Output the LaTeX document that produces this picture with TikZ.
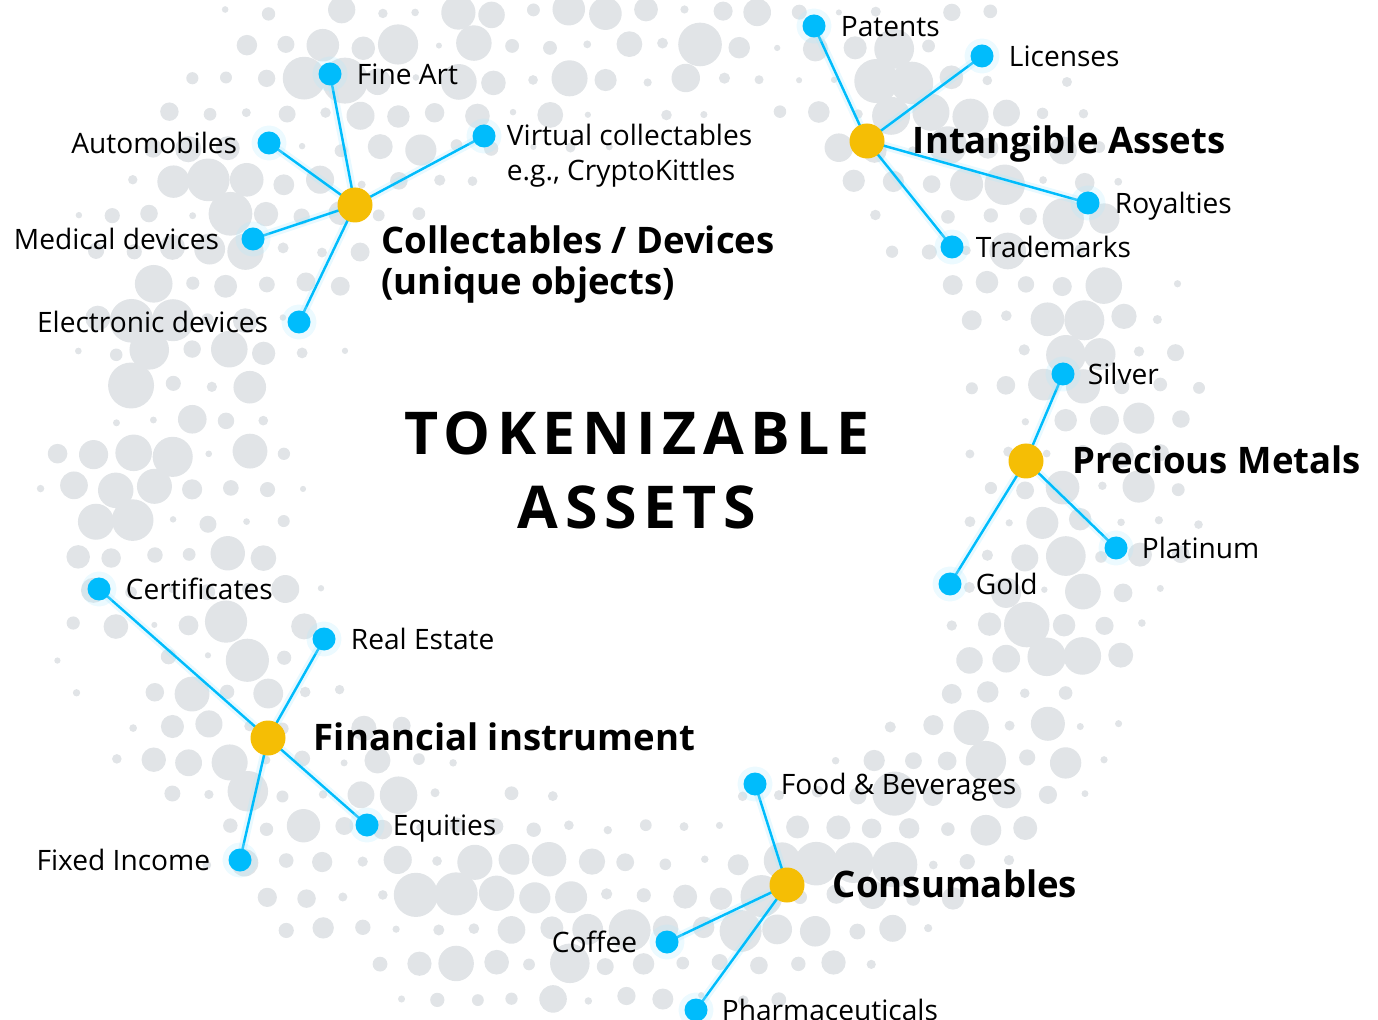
\documentclass[tikz,border=0pt]{standalone}
\usepackage{fontspec}
\setmainfont{Open Sans}
\usetikzlibrary{positioning}
\definecolor{leafblue}{HTML}{00BCFC}
\definecolor{hubyellow}{HTML}{F5BE05}
\definecolor{dotgray}{HTML}{E1E4E7}
\pgfdeclarelayer{dots}
\pgfdeclarelayer{edges}
\pgfsetlayers{dots,edges,main}
\tikzset{
  leaf/.style={circle, fill=leafblue, minimum size=2.3mm, inner sep=0pt,
    preaction={draw=leafblue!30, line width=1.2mm, draw opacity=0.25}},
  hub/.style={circle, fill=hubyellow, minimum size=3.5mm, inner sep=0pt},
  txt/.style={inner sep=0pt, font=\fontsize{8}{10}\selectfont,
    text height=0.72em, text depth=0.13em},
  hubtxt/.style={inner sep=0pt, font=\fontsize{10.4}{11.7}\selectfont\bfseries,
    text height=0.72em, text depth=0em},
  link/.style={draw=leafblue, line width=0.7pt,
    preaction={draw=leafblue!30, line width=2.4pt, draw opacity=0.3}}
}
\begin{document}
\begin{tikzpicture}[x=1cm, y=-1cm, line cap=round, line join=round]
    \useasboundingbox (0,0) rectangle (13.78,10.20);
    % background dots
    \begin{pgfonlayer}{dots}
        \pgfmathsetseed{17}
        \foreach \i in {0,...,36}{
            \foreach \j in {0,...,30}{
                \pgfmathsetmacro\cx{0.19*mod(\j,2)+0.38*\i}
                \pgfmathsetmacro\cy{0.12+0.34*\j}
                \pgfmathsetmacro\din{veclen(\cx-6.4,\cy-4.7)}
                \pgfmathsetmacro\dout{veclen(\cx-6.2,\cy-4.6)}
                \pgfmathsetmacro\fade{min(1,(\din-3.05)/1.1,(6.15-\dout)/1.1)}
                \pgfmathsetmacro\rad{(0.03+0.2*rnd^1.3)*\fade}
                \pgfmathtruncatemacro\keep{\rad>0.03}
                \ifnum\keep=1
                    \fill[dotgray] (\cx+0.03*rand,\cy+0.03*rand) circle (\rad);
                \fi
            }
        }
    \end{pgfonlayer}

    % title
    \node[font=\fontsize{16.8}{21}\selectfont\bfseries\addfontfeatures{LetterSpace=11},
        align=center, inner sep=0pt] (title) at (6.37,4.70) {TOKENIZABLE\\ASSETS};

    % collectables
    \node[hub] (colhub) at (3.55,2.05) {};
    \node[leaf] (fineart) at (3.30,0.74) {};
    \node[leaf] (automob) at (2.69,1.43) {};
    \node[leaf] (medical) at (2.53,2.39) {};
    \node[leaf] (electro) at (2.99,3.22) {};
    \node[leaf] (virtual) at (4.84,1.36) {};
    \node[txt, right=1.4mm of fineart] (fineartT) {Fine Art};
    \node[txt, left=1.9mm of automob] (automobT) {Automobiles};
    \node[txt, left=2.1mm of medical] (medicalT) {Medical devices};
    \node[txt, left=1.8mm of electro] (electroT) {Electronic devices};
    \node[txt, text height=, text depth=, right=1.0mm of virtual, yshift=-2.0mm,
        align=left] (virtualT) {Virtual collectables\\e.g., CryptoKittles};
    \node[hubtxt, text height=, text depth=, align=left,
        below right=0.07cm and 0.13cm of colhub] (colT)
        {Collectables / Devices\\(unique objects)};

    % intangible
    \node[hub] (inthub) at (8.67,1.41) {};
    \node[leaf] (patents) at (8.14,0.26) {};
    \node[leaf] (licenses) at (9.82,0.56) {};
    \node[leaf] (royalty) at (10.88,2.03) {};
    \node[leaf] (trademk) at (9.52,2.47) {};
    \node[txt, right=1.4mm of patents] (patentsT) {Patents};
    \node[txt, right=1.4mm of licenses] (licensesT) {Licenses};
    \node[txt, right=1.4mm of royalty] (royaltyT) {Royalties};
    \node[txt, right=1.1mm of trademk] (trademkT) {Trademarks};
    \node[hubtxt, right=2.7mm of inthub] (intT) {Intangible Assets};

    % precious metals
    \node[hub] (methub) at (10.26,4.61) {};
    \node[leaf] (silver) at (10.63,3.74) {};
    \node[leaf] (platin) at (11.16,5.48) {};
    \node[leaf] (gold) at (9.50,5.84) {};
    \node[txt, right=1.2mm of silver] (silverT) {Silver};
    \node[txt, right=1.3mm of platin] (platinT) {Platinum};
    \node[txt, right=1.3mm of gold] (goldT) {Gold};
    \node[hubtxt, right=2.8mm of methub] (metT) {Precious Metals};

    % financial
    \node[hub] (finhub) at (2.68,7.38) {};
    \node[leaf] (certif) at (0.99,5.89) {};
    \node[leaf] (realest) at (3.24,6.39) {};
    \node[leaf] (equity) at (3.67,8.25) {};
    \node[leaf] (fixedinc) at (2.40,8.60) {};
    \node[txt, right=1.4mm of certif] (certifT) {Certificates};
    \node[txt, right=1.4mm of realest] (realestT) {Real Estate};
    \node[txt, right=1.3mm of equity] (equityT) {Equities};
    \node[txt, left=1.7mm of fixedinc] (fixedincT) {Fixed Income};
    \node[hubtxt, right=2.7mm of finhub] (finT) {Financial instrument};

    % consumables
    \node[hub] (conhub) at (7.87,8.85) {};
    \node[leaf] (food) at (7.55,7.84) {};
    \node[leaf] (coffee) at (6.67,9.42) {};
    \node[leaf] (pharma) at (6.96,10.10) {};
    \node[txt, right=1.3mm of food] (foodT) {Food \& Beverages};
    \node[txt, left=1.7mm of coffee] (coffeeT) {Coffee};
    \node[txt, right=1.3mm of pharma] (pharmaT) {Pharmaceuticals};
    \node[hubtxt, right=2.7mm of conhub] (conT) {Consumables};

    % links
    \begin{pgfonlayer}{edges}
        \foreach \h/\l in {colhub/fineart,colhub/automob,colhub/medical,colhub/electro,colhub/virtual,
            inthub/patents,inthub/licenses,inthub/royalty,inthub/trademk,
            methub/silver,methub/platin,methub/gold,
            finhub/certif,finhub/realest,finhub/equity,finhub/fixedinc,
            conhub/food,conhub/coffee,conhub/pharma}
            \draw[link] (\h.center) -- (\l.center);
    \end{pgfonlayer}
\end{tikzpicture}
\end{document}
